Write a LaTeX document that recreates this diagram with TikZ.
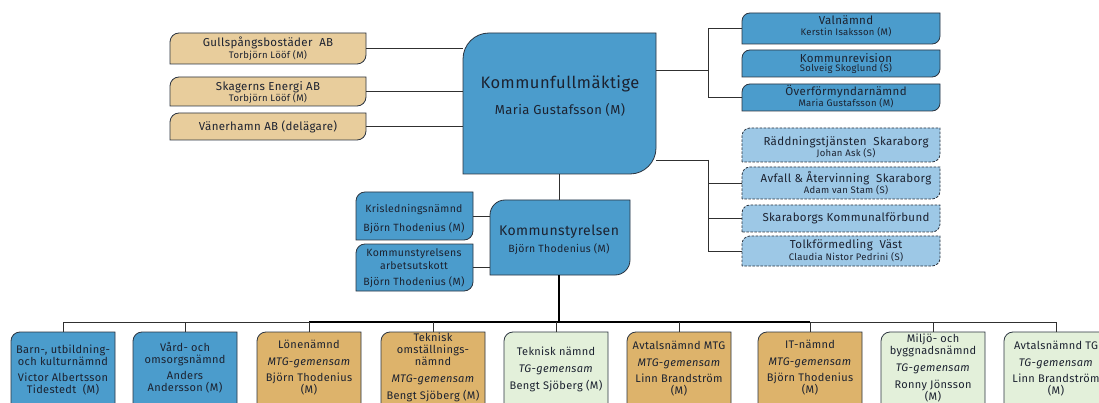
\documentclass[tikz,border=0pt]{standalone}
\usepackage{fontspec}
\setmainfont{Fira Sans}[LetterSpace=3]
\definecolor{kblue}{HTML}{4B9CCC}
\definecolor{kltblue}{HTML}{9DC8E6}
\definecolor{ktan}{HTML}{DDB36B}
\definecolor{kltan}{HTML}{E8CD9C}
\definecolor{kgreen}{HTML}{E3F0DA}
\definecolor{kedge}{HTML}{2B3440}
\definecolor{kline}{HTML}{303030}
\definecolor{ktext}{HTML}{1C2230}

% A box whose top-left and bottom-right corners are rounded.
% #1 style, #2 node name, #3 x1, #4 y1, #5 x2, #6 y2, #7 corner radius
\newcommand\leafbox[7]{%
  \path[#1] (#3,#6) -- (#3,{#4+#7})
    .. controls (#3,{#4+0.448*#7}) and ({#3+0.448*#7},#4) .. ({#3+#7},#4)
    -- (#5,#4) -- (#5,{#6-#7})
    .. controls (#5,{#6-0.448*#7}) and ({#5-0.448*#7},#6) .. ({#5-#7},#6)
    -- cycle;
  \node[inner sep=0pt, minimum width={(#5-#3)*1pt}, minimum height={(#6-#4)*1pt}]
    (#2) at ({(#3+#5)/2},{(#4+#6)/2}) {};}

% A committee box on the bottom row: #1 style, #2 name, #3 centre x, #4 first line y, #5 text
\newcommand\rowbox[5]{%
  \leafbox{#1}{#2}{#3-52}{332}{#3+52}{418}{9}
  \node[rowtext, anchor=north] (#2-t) at (#3,{#4-5.5}) {#5};}

\begin{document}
\begin{tikzpicture}[x=1pt, y=-1pt,
  boxline/.style={draw=kedge, line width=0.8pt},
  blue/.style={boxline, fill=kblue},
  ltblue/.style={boxline, fill=kltblue, dashed, dash pattern=on 2.5pt off 1.5pt},
  tan/.style={boxline, fill=ktan},
  lttan/.style={boxline, fill=kltan},
  green/.style={boxline, fill=kgreen},
  conn/.style={draw=kline, line width=0.9pt},
  trunk/.style={draw=black, line width=1.5pt},
  lbl/.style={text=ktext, inner sep=0pt, align=center},
  rowtext/.style={lbl, font=\fontsize{11}{12}\selectfont},
  bigt/.style={font=\fontsize{11.5}{13}\selectfont},
  smallt/.style={font=\fontsize{9.5}{10}\selectfont},
  midt/.style={font=\fontsize{10.5}{12.5}\selectfont},
]
\useasboundingbox (0,0) rectangle (1099,403);
\fill[white] (0,0) rectangle (1099,403);

% council
\leafbox{blue}{kf}{463}{33}{656}{174}{26}
% companies on the left
\leafbox{lttan}{gull}{170}{33}{366}{64}{9}
\leafbox{lttan}{skag}{170}{77}{366}{106}{9}
\leafbox{lttan}{vaner}{170}{113}{366}{140}{9}
\draw[conn] (gull.east) -- (gull.east -| kf.west);
\draw[conn] (skag.east) -- (skag.east -| kf.west);
\draw[conn] (vaner.east) -- (vaner.east -| kf.west);

% boards on the right
\leafbox{blue}{val}{742}{13}{940}{44}{8}
\leafbox{blue}{rev}{742}{50}{940}{77}{8}
\leafbox{blue}{over}{742}{84}{940}{111}{8}
\coordinate (jr1) at (708,70);
\draw[conn] (kf.east |- jr1) -- (jr1);
\draw[conn] (val.west) -| (jr1) |- (over.west);

\leafbox{ltblue}{radd}{742}{128}{940}{162}{8}
\leafbox{ltblue}{avfall}{742}{167}{940}{199}{8}
\leafbox{ltblue}{skkf}{742}{205}{940}{232}{8}
\leafbox{ltblue}{tolk}{742}{236}{940}{266}{8}
\coordinate (jr2) at (708,160);
\draw[conn] (kf.east |- jr2) -- (jr2);
\draw[conn] (jr2) |- (tolk.west);
\draw[conn] (avfall.west) -- (avfall.west -| jr2);
\draw[conn] (skkf.west) -- (skkf.west -| jr2);

% executive board
\leafbox{blue}{ks}{490}{200}{630}{275}{15}
\draw[conn] (kf.south -| ks.north) ++(-1,0) -- ++(0,26);
\leafbox{blue}{kris}{356}{192}{473}{240}{9}
\leafbox{blue}{ksau}{356}{244}{473}{291}{9}
\draw[conn] (kris.east) -- (kris.east -| ks.west);
\draw[conn] (ksau.east) -- (ksau.east -| ks.west);

% bus to the committees
\coordinate (bus) at (559,322);
\draw[trunk] (ks.south -| bus) -- (bus);

\rowbox{blue}{b1}{63}{350}{Barn-, utbildning-\\och kulturnämnd\\[4pt]Victor Albertsson\\Tidestedt~ (M)}
\rowbox{blue}{b2}{185}{348}{Vård- och\\omsorgsnämnd\\[4pt]Anders\\Andersson (M)}
\rowbox{tan}{b3}{309}{345}{Lönenämnd\\[5pt]\textit{MTG-gemensam}\\[4pt]Björn Thodenius\\(M)}
\rowbox{tan}{b4}{433}{338}{Teknisk\\omställnings-\\nämnd\\[5pt]\textit{MTG-gemensam}\\[5pt]Bengt Sjöberg (M)}
\rowbox{green}{b5}{556}{352}{Teknisk nämnd\\[5pt]\textit{TG-gemensam}\\[5pt]Bengt Sjöberg (M)}
\rowbox{tan}{b6}{679}{346}{Avtalsnämnd MTG\\[5pt]\textit{MTG-gemensam}\\[4pt]Linn Brandström\\(M)}
\rowbox{tan}{b7}{810}{345}{IT-nämnd\\[5pt]\textit{MTG-gemensam}\\[4pt]Björn Thodenius\\(M)}
\rowbox{green}{b8}{933}{339}{Miljö- och\\byggnadsnämnd\\[5pt]\textit{TG-gemensam}\\[5pt]Ronny Jönsson\\(M)}
\rowbox{green}{b9}{1056}{346}{Avtalsnämnd TG\\[5pt]\textit{TG-gemensam}\\[4pt]Linn Brandström\\(M)}

\draw[conn] (b1.north) |- (bus);
\draw[conn] (bus) -| (b9.north);
\draw[trunk] (b3.north |- bus) -- (b7.north |- bus);
\foreach \b in {b2,b3,b4,b5,b6,b7,b8}
  \draw[conn] (\b.north |- bus) -- (\b.north);

% ---- Labels ----
\node[lbl, font=\fontsize{16.5}{18}\selectfont] (kf-t) at (560,84) {Kommunfullmäktige};
\node[lbl, font=\fontsize{13}{14}\selectfont] (kf-n) at (560,110) {Maria Gustafsson (M)};

\node[lbl, bigt] (gull-t) at (268,43) {Gullspångsbostäder~ AB};
\node[lbl, smallt] (gull-n) at (268,55) {Torbjörn Lööf (M)};
\node[lbl, bigt] (skag-t) at (268,87) {Skagerns Energi AB};
\node[lbl, smallt] (skag-n) at (268,98) {Torbjörn Lööf (M)};
\node[lbl, bigt] (vaner-t) at (268,127) {Vänerhamn AB (delägare)};

\node[lbl, bigt] (val-t) at (846,20) {Valnämnd};
\node[lbl, smallt] (val-n) at (846,32) {Kerstin Isaksson (M)};
\node[lbl, bigt] (rev-t) at (846,58) {Kommunrevision};
\node[lbl, smallt] (rev-n) at (846,69) {Solveig Skoglund (S)};
\node[lbl, bigt] (over-t) at (846,92) {Överförmyndarnämnd};
\node[lbl, smallt] (over-n) at (846,103) {Maria Gustafsson (M)};

\node[lbl, bigt] (radd-t) at (846,142) {Räddningstjänsten~ Skaraborg};
\node[lbl, smallt] (radd-n) at (846,153) {Johan Ask (S)};
\node[lbl, bigt] (avfall-t) at (846,178) {Avfall \& Återvinning~ Skaraborg};
\node[lbl, smallt] (avfall-n) at (846,190) {Adam van Stam (S)};
\node[lbl, bigt] (skkf-t) at (846,218) {Skaraborgs Kommunalförbund};
\node[lbl, bigt] (tolk-t) at (846,245) {Tolkförmedling~ Väst};
\node[lbl, smallt] (tolk-n) at (846,257) {Claudia Nistor Pedrini (S)};

\node[lbl, font=\fontsize{14}{16}\selectfont] (ks-t) at (559,232) {Kommunstyrelsen};
\node[lbl, font=\fontsize{10.5}{12}\selectfont] (ks-n) at (559,249) {Björn Thodenius (M)};

\node[lbl, midt] (kris-t) at (414,210) {Krisledningsnämnd};
\node[lbl, midt] (kris-n) at (414,228) {Björn Thodenius (M)};
\node[lbl, midt] (ksau-t) at (414,259) {Kommunstyrelsens\\arbetsutskott};
\node[lbl, midt] (ksau-n) at (414,282) {Björn Thodenius (M)};
\end{tikzpicture}
\end{document}
